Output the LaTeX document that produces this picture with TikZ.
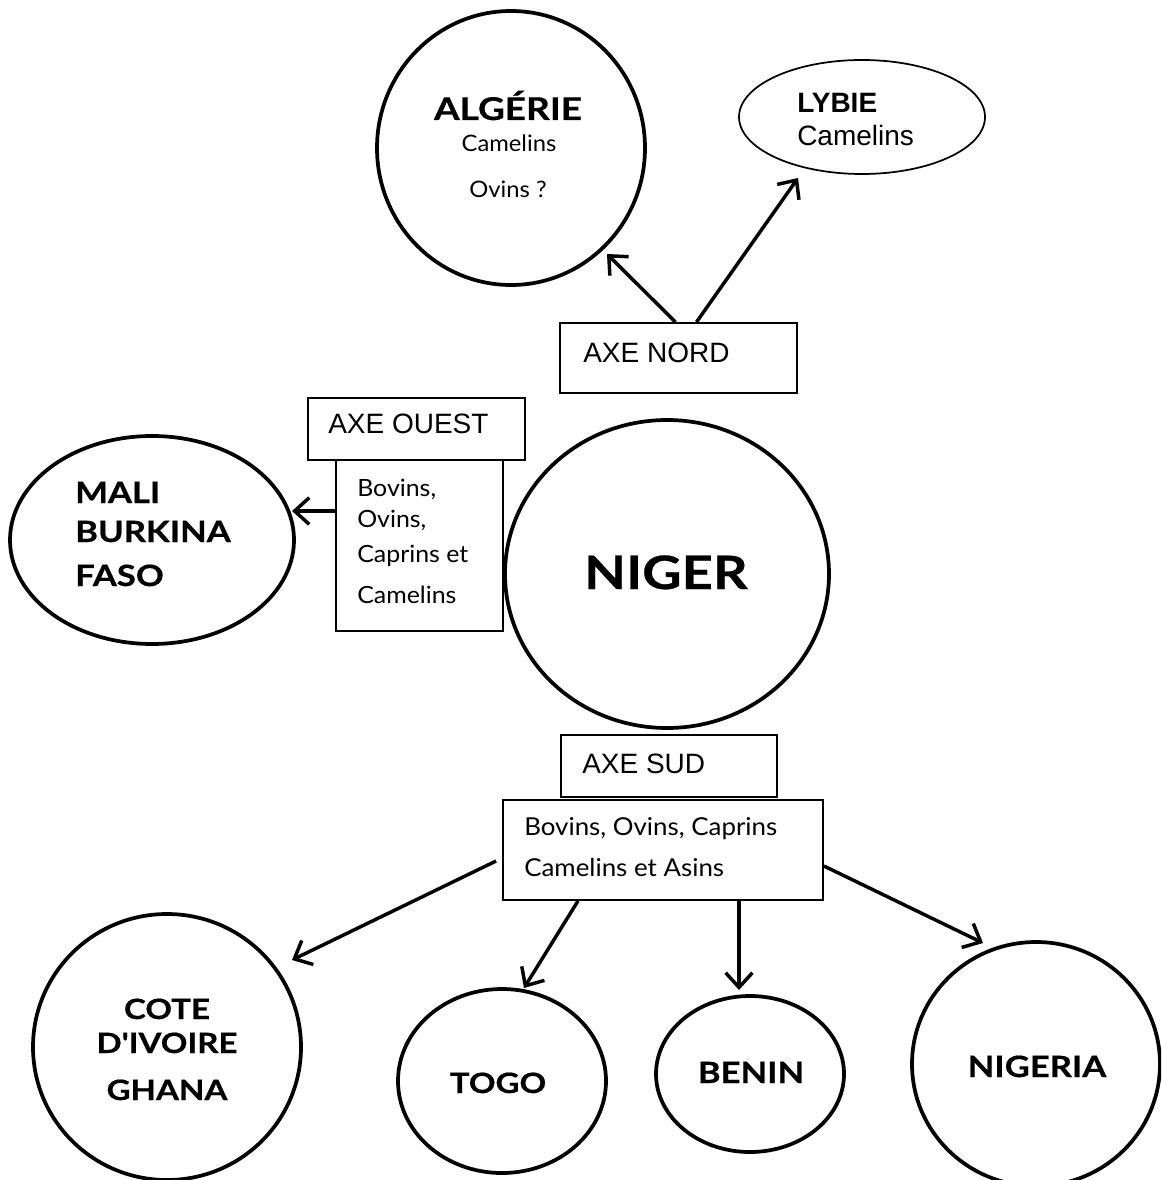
\documentclass[tikz,border=0pt]{standalone}
\usepackage{fontspec}
\usetikzlibrary{shapes.geometric,arrows.meta,calc}
\newfontfamily\arialf{Liberation Sans}
\newfontfamily\gill[FakeStretch=1.05, BoldFeatures={FakeStretch=1.18, FakeBold=0.6}]{Lato}
\tikzset{
  shp/.style={draw, line width=2.8pt, ellipse, inner sep=0pt},
  thinshp/.style={draw, line width=1.3pt, ellipse, inner sep=0pt},
  bx/.style={draw, line width=1.4pt, rectangle, inner sep=0pt},
  arr/.style={line width=2.6pt, -{Straight Barb[length=11pt,width=20pt,line width=2.6pt]}},
  lab/.style={inner sep=0pt, anchor=base west},
  labc/.style={inner sep=0pt, anchor=base},
  ar/.style={font=\arialf\fontsize{21}{25}\selectfont},
  arb/.style={font=\arialf\bfseries\fontsize{21}{25}\selectfont},
}
\begin{document}
\begin{tikzpicture}[x=0.75pt,y=-0.75pt]
\path[use as bounding box, fill=white] (0,0) rectangle (1161,1180);
\clip (0,0) rectangle (1161,1180);

% shapes
\node[shp, minimum width=201pt, minimum height=205.5pt] (alg) at (511,148) {};
\node[thinshp, minimum width=184.5pt, minimum height=85.5pt] (lyb) at (862,117) {};
\node[bx, minimum width=177.75pt, minimum height=52.5pt] (nord) at (678.5,358) {};
\node[bx, minimum width=162.75pt, minimum height=46.5pt] (ouest) at (416.5,429) {};
\node[bx, minimum width=125.25pt, minimum height=128.25pt] (ouestc) at (419.5,545.5) {};
\node[shp, minimum width=213pt, minimum height=156pt] (mali) at (152,540) {};
\node[shp, minimum width=243pt, minimum height=231pt] (niger) at (667,574) {};
\node[bx, minimum width=162pt, minimum height=46.5pt] (sud) at (669,766) {};
\node[bx, minimum width=240pt, minimum height=75pt] (sudc) at (663,850) {};
\node[shp, minimum width=201pt, minimum height=199.5pt] (cote) at (167,1047) {};
\node[shp, minimum width=156pt, minimum height=138pt] (togo) at (502,1081) {};
\node[shp, minimum width=141pt, minimum height=117pt] (benin) at (750,1074) {};
\node[shp, minimum width=186pt, minimum height=183pt] (nigeria) at (1036,1064) {};

% texts
\node[labc, font=\gill\bfseries\fontsize{23.5}{27}\selectfont] (tAlg) at (508,120) {ALGÉRIE};
\node[labc, font=\gill\fontsize{17}{20}\selectfont] (tAlg2) at (509,152) {Camelins};
\node[labc, font=\gill\fontsize{17}{20}\selectfont] (tAlg3) at (508,198) {Ovins ?};

\node[lab, arb] (tLyb) at (797,113) {LYBIE};
\node[lab, ar] (tLyb2) at (797,146) {Camelins};

\node[lab, ar] (tNord) at (583,362) {AXE NORD};
\node[lab, ar] (tOuest) at (328,433) {AXE OUEST};
\node[lab, ar] (tSud) at (582,773) {AXE SUD};

\node[lab, font=\gill\fontsize{17.8}{21}\selectfont] (o1) at (357,496) {Bovins,};
\node[lab, font=\gill\fontsize{17.8}{21}\selectfont] (o2) at (357,527) {Ovins,};
\node[lab, font=\gill\fontsize{17.8}{21}\selectfont] (o3) at (357,562) {Caprins et};
\node[lab, font=\gill\fontsize{17.8}{21}\selectfont] (o4) at (357,603) {Camelins};

\node[lab, font=\gill\bfseries\fontsize{22}{26}\selectfont] (m1) at (75,503) {MALI};
\node[lab, font=\gill\bfseries\fontsize{22}{26}\selectfont] (m2) at (75,542) {BURKINA};
\node[lab, font=\gill\bfseries\fontsize{22}{26}\selectfont] (m3) at (75,586) {FASO};

\node[labc, font=\gill\bfseries\fontsize{34.5}{40}\selectfont] (tNiger) at (666,589) {NIGER};

\node[lab, font=\gill\fontsize{18.5}{22}\selectfont] (s1) at (524,835) {Bovins, Ovins, Caprins};
\node[lab, font=\gill\fontsize{18.5}{22}\selectfont] (s2) at (524,876) {Camelins et Asins};

\node[labc, font=\gill\bfseries\fontsize{21}{25}\selectfont] (c1) at (167,1019) {COTE};
\node[labc, font=\gill\bfseries\fontsize{21}{25}\selectfont] (c2) at (167,1053) {D'IVOIRE};
\node[labc, font=\gill\bfseries\fontsize{21}{25}\selectfont] (c3) at (167,1100) {GHANA};
\node[labc, font=\gill\bfseries\fontsize{21}{25}\selectfont] (tTogo) at (498,1093) {TOGO};
\node[labc, font=\gill\bfseries\fontsize{22}{26}\selectfont] (tBenin) at (751,1083) {BENIN};
\node[labc, font=\gill\bfseries\fontsize{22}{26}\selectfont] (tNigeria) at (1037,1077) {NIGERIA};

% connectors
\draw[arr] ($(nord.north)+(-3,0)$) -- ($(alg.center)+(96,106)$);
\draw[arr] ($(nord.north)+(18,0)$) -- ($(lyb.center)+(-64,61)$);
\draw[arr] ($(ouestc.west)+(0,-34.5)$) -- ($(mali.center)+(140,-29)$);
\draw[arr] ($(sudc.west)+(-6,11)$) -- ($(cote.center)+(125,-87)$);
\draw[arr] ($(sudc.south)+(-85,0)$) -- ($(togo.center)+(22,-93)$);
\draw[arr] ($(sudc.south)+(76,0)$) -- ($(benin.center)+(-11,-84)$);
\draw[arr] ($(sudc.east)+(0,16)$) -- ($(nigeria.center)+(-53,-121)$);
\end{tikzpicture}
\end{document}
